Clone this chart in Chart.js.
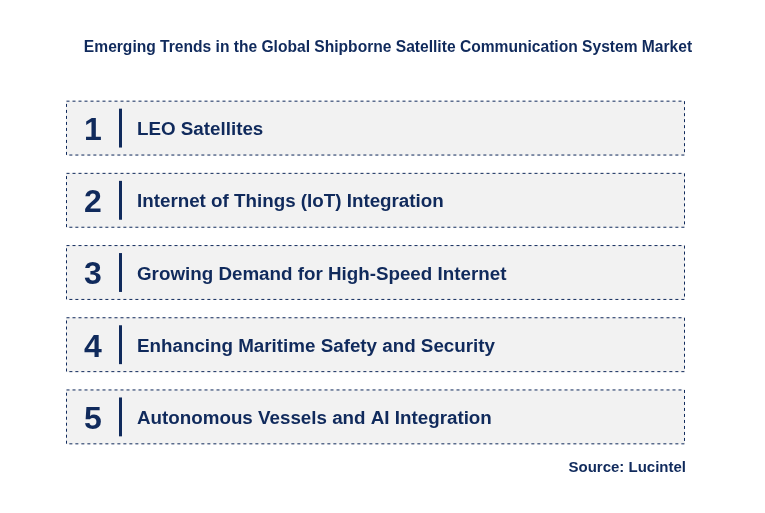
<!DOCTYPE html>
<html><head><meta charset="utf-8">
<script src="https://cdn.jsdelivr.net/npm/chart.js@4"></script>
<style>html,body{margin:0;padding:0;background:#fff}#w{width:765px;height:513px}</style>
</head><body><div id="w"><canvas id="c"></canvas></div>
<script>
const categories = ["1","2","3","4","5"];
const labels = ["LEO Satellites","Internet of Things (IoT) Integration","Growing Demand for High-Speed Internet","Enhancing Maritime Safety and Security","Autonomous Vessels and AI Integration"];
const values = [[0,1],[0,1],[0,1],[0,1],[0,1]];
const titleText = "Emerging Trends in the Global Shipborne Satellite Communication System Market";
const sourceText = "Source: Lucintel";
const navy = "#102a5c";

const deco = {
  id:'deco',
  afterDatasetsDraw(chart){
    const ctx = chart.ctx;
    const meta = chart.getDatasetMeta(0);
    ctx.save();
    meta.data.forEach((b,i)=>{
      const x0=Math.min(b.base,b.x), x1=Math.max(b.base,b.x);
      const y0=b.y-b.height/2, y1=b.y+b.height/2;
      ctx.setLineDash([3,3]); ctx.strokeStyle=navy; ctx.lineWidth=1;
      ctx.strokeRect(x0+0.5,y0+0.5,x1-x0-1,y1-y0-1);
      ctx.setLineDash([]);
      ctx.fillStyle=navy;
      ctx.fillRect(x0+53,y0+8,3,y1-y0-16);
      ctx.font="bold 32px Arial, 'Liberation Sans'";
      ctx.textAlign="center"; ctx.textBaseline="middle";
      ctx.fillText(categories[i],x0+27,b.y+3);
      ctx.font="bold 18.8px Arial, 'Liberation Sans'";
      ctx.textAlign="left";
      ctx.fillText(labels[i],x0+71,b.y+2);
    });
    ctx.font="bold 15.6px Arial, 'Liberation Sans'";
    ctx.textAlign="center"; ctx.fillText(titleText,388,48);
    ctx.font="bold 15px Arial, 'Liberation Sans'";
    ctx.textAlign="right"; ctx.fillText(sourceText,686,468);
    ctx.restore();
  }
};

new Chart(document.getElementById('c'),{
  type:'bar',
  data:{labels:categories,datasets:[{data:values,backgroundColor:'#f2f2f2',borderWidth:0,barPercentage:0.76,categoryPercentage:1}]},
  options:{
    indexAxis:'y',responsive:true,maintainAspectRatio:false,animation:false,
    layout:{padding:{left:66,right:80,top:92,bottom:60}},
    plugins:{legend:{display:false},tooltip:{enabled:false}},
    scales:{x:{display:false,min:0,max:1},y:{display:false}}
  },
  plugins:[deco]
});
</script></body></html>
